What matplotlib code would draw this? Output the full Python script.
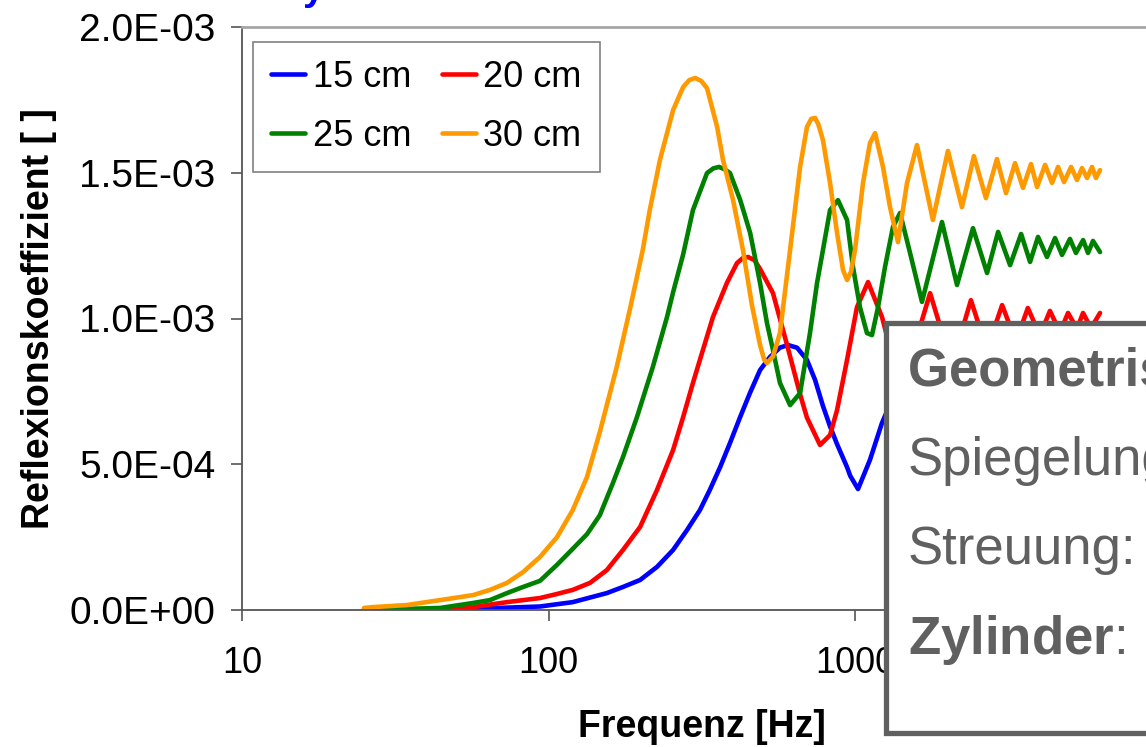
import matplotlib
matplotlib.use("Agg")
import matplotlib.pyplot as plt
import numpy as np
from matplotlib.patches import Rectangle
from matplotlib.ticker import FuncFormatter, NullLocator

plt.rcParams['font.family'] = ['Liberation Sans', 'DejaVu Sans']
plt.rcParams['mathtext.fontset'] = 'custom'
plt.rcParams['mathtext.rm'] = 'Liberation Sans'
plt.rcParams['mathtext.bf'] = 'Liberation Sans:bold'

# values, reflection coefficient in units of 1e-3
f15 = [25, 40, 60, 93.8, 120, 155, 175, 199, 226, 255, 283, 312, 336, 363, 391,
       422, 454, 490, 528, 569, 604, 647, 697, 741, 786, 829, 873, 942, 965, 1023,
       1119, 1224, 1482, 1884, 2322, 2760, 3184, 3590, 4020, 4466, 4886, 5348,
       5808, 6300]
r15 = [0.0, 0.002, 0.005, 0.012, 0.027, 0.058, 0.079, 0.103, 0.148, 0.206, 0.274,
       0.343, 0.412, 0.49, 0.573, 0.662, 0.744, 0.823, 0.868, 0.9, 0.909, 0.9,
       0.858, 0.789, 0.70, 0.63, 0.57, 0.49, 0.46, 0.415, 0.515, 0.641, 0.844,
       0.566, 0.818, 0.631, 0.798, 0.669, 0.788, 0.691, 0.779, 0.707, 0.774, 0.72]

f20 = [25, 44, 56.7, 73.2, 93.8, 106.6, 120, 136.6, 155, 175, 199, 226, 255, 275,
       296, 319, 344, 382, 412, 430, 448, 470, 490, 540, 600, 662, 697, 769, 829,
       874, 942, 1015, 1103, 1225, 1413, 1758, 2070, 2389, 2693, 3020, 3350, 3664,
       4011, 4325, 4665, 4955, 5298, 5546, 5889, 6300]
r20 = [0.001, 0.003, 0.01, 0.027, 0.041, 0.055, 0.069, 0.093, 0.137, 0.206, 0.285,
       0.412, 0.549, 0.662, 0.779, 0.892, 1.005, 1.122, 1.19, 1.207, 1.211, 1.2,
       1.17, 1.087, 0.91, 0.74, 0.66, 0.566, 0.6, 0.686, 0.858, 1.039, 1.125,
       1.005, 0.755, 1.087, 0.841, 1.063, 0.892, 1.046, 0.921, 1.036, 0.942,
       1.026, 0.953, 1.019, 0.965, 1.019, 0.967, 1.019]

f25 = [25, 34.8, 44.3, 56.7, 64.4, 73.2, 82.6, 93.8, 106.6, 120, 133.5, 147, 162.3,
       175, 194.4, 219, 243.6, 255, 275, 296, 329, 345, 360, 375, 391, 422, 455,
       490, 516, 540, 569, 614, 662, 713, 752, 786, 829, 880, 942, 985, 1038, 1094,
       1136, 1189, 1253, 1330, 1403, 1512, 1654, 1922, 2152, 2426, 2697, 2930,
       3206, 3483, 3725, 3955, 4230, 4494, 4736, 5027, 5258, 5550, 5757, 5977, 6300]
r25 = [0.002, 0.004, 0.007, 0.024, 0.034, 0.058, 0.079, 0.1, 0.155, 0.21, 0.26,
       0.325, 0.436, 0.525, 0.662, 0.834, 1.005, 1.09, 1.22, 1.372, 1.499, 1.515,
       1.52, 1.512, 1.499, 1.407, 1.293, 1.122, 0.985, 0.892, 0.779, 0.703, 0.744,
       0.95, 1.122, 1.235, 1.372, 1.406, 1.338, 1.177, 1.039, 0.95, 0.943, 1.039,
       1.177, 1.314, 1.362, 1.225, 1.057, 1.331, 1.115, 1.31, 1.156, 1.297, 1.183,
       1.29, 1.194, 1.28, 1.211, 1.276, 1.218, 1.273, 1.225, 1.269, 1.225, 1.266,
       1.228]

f30 = [25, 26.8, 34.5, 44.3, 56.7, 64.4, 73.2, 82.6, 93.8, 106.6, 120, 133.5, 147,
       167, 185, 203, 214, 231, 255, 275, 288, 301, 315, 329, 355, 371, 400, 431,
       461, 490, 505, 516, 540, 569, 614, 662, 697, 720, 741, 760, 786, 829, 874,
       914, 942, 970, 1000, 1062, 1119, 1163, 1234, 1301, 1381, 1478, 1593, 1795,
       2010, 2233, 2443, 2674, 2904, 3110, 3327, 3532, 3752, 3926, 4170, 4394,
       4597, 4808, 5070, 5300, 5503, 5717, 5934, 6111, 6300]
r30 = [0.007, 0.01, 0.017, 0.034, 0.051, 0.069, 0.093, 0.13, 0.182, 0.25, 0.343,
       0.456, 0.61, 0.834, 1.039, 1.235, 1.372, 1.544, 1.715, 1.794, 1.818, 1.825,
       1.815, 1.79, 1.657, 1.544, 1.407, 1.235, 1.046, 0.909, 0.86, 0.847, 0.87,
       0.95, 1.235, 1.52, 1.657, 1.685, 1.688, 1.665, 1.612, 1.465, 1.293, 1.166,
       1.132, 1.16, 1.235, 1.465, 1.602, 1.636, 1.52, 1.382, 1.262, 1.465, 1.595,
       1.338, 1.575, 1.382, 1.557, 1.413, 1.547, 1.43, 1.533, 1.448, 1.53, 1.451,
       1.527, 1.465, 1.52, 1.468, 1.52, 1.475, 1.516, 1.482, 1.52, 1.482, 1.509]

labels = ["15 cm", "20 cm", "25 cm", "30 cm"]
colors = ["#0000ff", "#ff0000", "#008000", "#ff9900"]
box_lines = ["Geometrische Reflexion", "Spiegelung", "Streuung:",
             r"$\mathbf{Zylinder}$:"]

W, H = 1146, 747
fig = plt.figure(figsize=(W / 100, H / 100), dpi=100)
ax = fig.add_axes([242 / W, 137 / H, 919.5 / W, 583 / H])

handles = []
for f, r, lab, c in zip([f15, f20, f25, f30], [r15, r20, r25, r30], labels, colors):
    h, = ax.plot(f, np.array(r) * 1e-3, color=c, lw=3.3, label=lab,
                 solid_joinstyle="round", solid_capstyle="round")
    handles.append(h)

ax.set_xscale("log")
ax.set_xlim(10, 10000)
ax.set_ylim(0, 2e-3)
ax.set_xticks([10, 100, 1000, 10000])
ax.xaxis.set_minor_locator(NullLocator())
ax.xaxis.set_major_formatter(FuncFormatter(lambda v, p: f"{int(v)}"))
ax.set_yticks([0, 0.5e-3, 1.0e-3, 1.5e-3, 2.0e-3])
ax.yaxis.set_major_formatter(FuncFormatter(lambda v, p: f"{v:.1E}"))
ax.tick_params(axis="both", direction="out", length=8, width=1.2, color="#555555")
ax.tick_params(axis="x", pad=18, labelsize=26)
ax.tick_params(axis="y", pad=11, labelsize=28)

for s in ["left", "bottom"]:
    ax.spines[s].set_color("#555555")
    ax.spines[s].set_linewidth(1.3)
ax.spines["top"].set_color("#a6a6a6")
ax.spines["top"].set_linewidth(2)
ax.spines["right"].set_visible(False)

ax.set_xlabel("Frequenz [Hz]", fontsize=27, fontweight="bold", labelpad=20)
ax.set_ylabel("Reflexionskoeffizient [ ]", fontsize=27, fontweight="bold", labelpad=9)

order = [0, 2, 1, 3]
leg = ax.legend([handles[i] for i in order], [labels[i] for i in order], ncol=2,
                loc="upper left", bbox_to_anchor=(11 / 919.5, 1 - 15 / 583),
                fontsize=26, fancybox=False, edgecolor="#808080", framealpha=1,
                handlelength=0.95, handletextpad=0.2, columnspacing=0.85,
                labelspacing=0.65, borderpad=0.5, borderaxespad=0)
leg.get_frame().set_linewidth(1.2)

# blue title, almost entirely above the picture
fig.text(303 / W, 1.0, "y", color="#0000ff", fontsize=28, fontweight="bold",
         va="baseline", ha="left")

# grey info box over the lower right corner
box = Rectangle((886 / W, 14 / H), 400 / W, 410 / H, transform=fig.transFigure,
                facecolor="white", edgecolor="#606060", linewidth=3.8,
                zorder=10, clip_on=False)
fig.add_artist(box)

gray = "#606060"
baselines = [385, 475, 564, 654]
weights = ["bold", "normal", "normal", "normal"]
for txt, yb, w in zip(box_lines, baselines, weights):
    fig.text(908 / W, 1 - yb / H, txt, fontsize=38, fontweight=w, color=gray,
             va="baseline", ha="left", zorder=11)

fig.savefig("out.png", dpi=100)
